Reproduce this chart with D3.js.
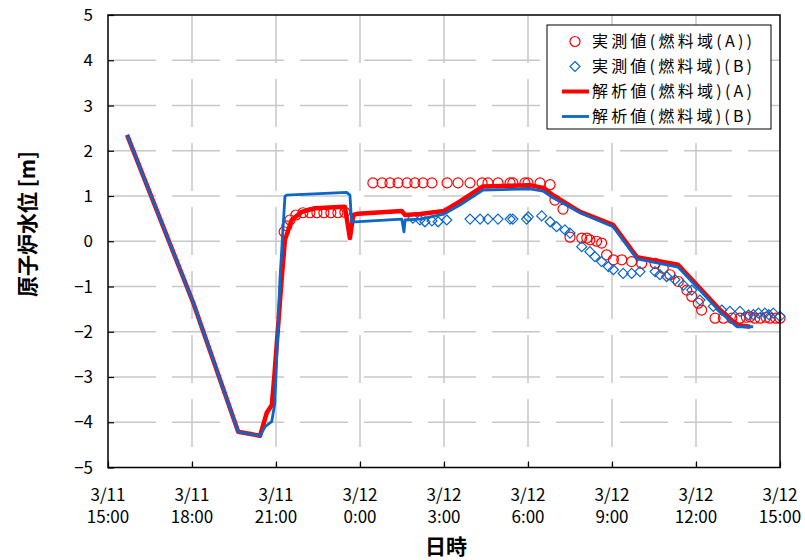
<!DOCTYPE html>
<html>
<head>
<meta charset="utf-8">
<script src="https://cdn.jsdelivr.net/npm/d3@7"></script>
<style>
body{margin:0;background:#fff;}
svg{display:block;font-family:"Noto Sans CJK JP","Noto Sans",sans-serif;}
</style>
</head>
<body>
<svg id="chart" width="805" height="560"></svg>
<script>
// time = hours since 3/11 15:00, value = water level [m]
const measTimeA = [6.29,6.39,6.5,6.71,6.96,7.21,7.46,7.71,7.96,8.21,8.46,
    9.46,9.79,10.07,10.36,10.68,10.96,11.25,11.57,12.11,12.5,12.93,13.36,13.57,13.93,14.36,14.46,14.89,15.0,15.43,15.79,
    15.96,16.25,16.5,16.92,17.1,17.21,17.45,17.63,17.81,18.05,18.35,18.7,19.06,19.54,19.83,20.07,20.37,20.67,20.85,21.08,21.2,
    21.68,21.98,22.28,22.57,22.8,22.93,23.1,23.29,23.5,23.64,23.85,24.0];
const measValA = [0.21,0.34,0.47,0.58,0.63,0.63,0.63,0.63,0.63,0.63,0.64,
    1.29,1.29,1.29,1.29,1.29,1.29,1.29,1.29,1.29,1.29,1.29,1.29,1.29,1.29,1.29,1.29,1.29,1.29,1.29,1.25,
    0.91,0.71,0.09,0.07,0.07,0.03,0.0,-0.04,-0.3,-0.41,-0.41,-0.45,-0.49,-0.49,-0.6,-0.74,-0.89,-1.08,-1.22,-1.37,-1.52,
    -1.7,-1.7,-1.7,-1.7,-1.68,-1.67,-1.7,-1.7,-1.68,-1.7,-1.7,-1.7];

const measTimeB = [10.89,11.14,11.32,11.57,11.79,12.1,12.93,13.29,13.57,13.93,14.36,14.46,14.95,15.01,15.49,15.79,16.02,16.32,16.5,
    16.92,17.21,17.39,17.63,17.87,18.05,18.4,18.7,19.0,19.54,19.71,19.95,20.25,20.55,20.85,21.14,21.62,21.92,22.21,22.57,22.87,
    23.05,23.23,23.46,23.6,23.76,24.0];
const measValB = [0.51,0.47,0.43,0.45,0.43,0.47,0.49,0.49,0.49,0.49,0.49,0.49,0.49,0.54,0.56,0.43,0.32,0.25,0.18,
    -0.12,-0.23,-0.34,-0.45,-0.56,-0.63,-0.71,-0.71,-0.67,-0.67,-0.74,-0.78,-0.85,-0.97,-1.08,-1.3,-1.44,-1.52,-1.55,-1.55,-1.63,
    -1.62,-1.59,-1.59,-1.62,-1.59,-1.66];

const calcTimeA = [0.68,3.05,4.65,5.43,5.67,5.85,5.94,6.2,6.32,6.56,6.92,7.39,8.46,8.64,8.76,8.93,10.49,10.61,11.14,12.0,12.57,13.39,
    15.07,15.54,15.89,16.86,18.04,18.89,20.36,21.86,22.46,22.93];
const calcValA = [2.35,-1.37,-4.21,-4.3,-3.79,-3.62,-2.99,-0.85,0.03,0.47,0.65,0.73,0.76,0.07,0.58,0.61,0.67,0.58,0.6,0.67,0.88,1.21,
    1.24,1.18,1.02,0.65,0.36,-0.35,-0.52,-1.52,-1.85,-1.89];

const calcTimeB = [0.68,3.05,4.65,5.43,5.61,5.85,5.96,6.14,6.32,6.38,8.52,8.64,8.7,8.82,10.49,10.57,10.61,11.14,12.0,12.57,13.39,
    15.07,15.54,15.89,16.86,18.04,18.89,20.36,21.86,22.46,23.04];
const calcValB = [2.35,-1.37,-4.21,-4.3,-4.1,-3.98,-3.57,-0.85,0.99,1.02,1.08,1.02,0.43,0.43,0.49,0.21,0.47,0.49,0.6,0.8,1.13,
    1.16,1.11,0.96,0.63,0.32,-0.39,-0.57,-1.56,-1.89,-1.89];

const xTicks = [0,3,6,9,12,15,18,21,24];
const xTickDates = ["3/11","3/11","3/11","3/12","3/12","3/12","3/12","3/12","3/12"];
const xTickTimes = ["15:00","18:00","21:00","0:00","3:00","6:00","9:00","12:00","15:00"];
const yTicks = [-5,-4,-3,-2,-1,0,1,2,3,4,5];
const legendLabels = ["実測値(燃料域(A))","実測値(燃料域)(B)","解析値(燃料域)(A)","解析値(燃料域)(B)"];

const red = "#ff0000", blue = "#0a66c8";

const svg = d3.select("#chart");
const m = {left:108, right:780, top:15, bottom:467.5};

const x = d3.scaleLinear().domain([0,24]).range([m.left, m.right]);
const y = d3.scaleLinear().domain([-5,5]).range([m.bottom, m.top]);

// grid
const grid = svg.append("g");
grid.selectAll("line.v").data(xTicks.slice(1,-1)).join("line")
    .attr("x1", d => x(d)).attr("x2", d => x(d))
    .attr("y1", m.top).attr("y2", m.bottom)
    .attr("stroke", "#c8c8c8").attr("stroke-width", 1.5)
    .attr("stroke-dasharray", "48,16");
grid.selectAll("line.h").data(yTicks.slice(1,-1)).join("line")
    .attr("x1", m.left).attr("x2", m.right)
    .attr("y1", d => y(d)).attr("y2", d => y(d))
    .attr("stroke", "#c8c8c8").attr("stroke-width", 1.5)
    .attr("stroke-dasharray", "48,16");

// axes (ticks inside)
const xAxis = svg.append("g").attr("transform", `translate(0,${m.bottom})`)
    .call(d3.axisTop(x).tickValues(xTicks).tickSize(6).tickFormat(""));
const yAxis = svg.append("g").attr("transform", `translate(${m.left},0)`)
    .call(d3.axisRight(y).tickValues(yTicks).tickSize(6).tickFormat(""));
[xAxis, yAxis].forEach(a => {
    a.select(".domain").remove();
    a.selectAll("line").attr("stroke", "#000").attr("stroke-width", 1.2);
});

// x tick labels
const xl = svg.append("g").attr("font-size", 17).attr("text-anchor", "middle").attr("fill", "#000");
xTicks.forEach((t, i) => {
    const tx = xl.append("text").attr("x", x(t)).attr("y", 501);
    tx.append("tspan").attr("x", x(t)).text(xTickDates[i]);
    tx.append("tspan").attr("x", x(t)).attr("dy", 22).text(xTickTimes[i]);
});
// y tick labels
svg.append("g").attr("font-size", 17).attr("text-anchor", "end")
    .selectAll("text").data(yTicks).join("text")
    .attr("x", 93).attr("y", d => y(d)).attr("dy", "0.36em")
    .text(d => d < 0 ? "\u2212" + Math.abs(d) : d);

// axis titles
svg.append("text").attr("transform", "translate(35,224) rotate(-90)")
    .attr("text-anchor", "middle").attr("font-size", 21).attr("font-weight", "bold")
    .text("原子炉水位 [m]");
svg.append("text").attr("x", 446).attr("y", 554)
    .attr("text-anchor", "middle").attr("font-size", 21).attr("font-weight", "bold")
    .text("日時");

// clip
svg.append("clipPath").attr("id", "plot").append("rect")
    .attr("x", m.left).attr("y", m.top).attr("width", m.right - m.left + 6).attr("height", m.bottom - m.top);

const plot = svg.append("g").attr("clip-path", "url(#plot)");

const diamond = s => `M0,${-s}L${s},0L0,${s}L${-s},0Z`;

// measured A
plot.append("g").selectAll("circle").data(measTimeA).join("circle")
    .attr("cx", d => x(d)).attr("cy", (d, i) => y(measValA[i])).attr("r", 5)
    .attr("fill", "none").attr("stroke", red).attr("stroke-width", 1.2);
// measured B
plot.append("g").selectAll("path").data(measTimeB).join("path")
    .attr("transform", (d, i) => `translate(${x(d)},${y(measValB[i])})`)
    .attr("d", diamond(5))
    .attr("fill", "none").attr("stroke", blue).attr("stroke-width", 1.2);

const line = d3.line().x(d => x(d[0])).y(d => y(d[1]));
plot.append("path").datum(d3.zip(calcTimeA, calcValA)).attr("d", line)
    .attr("fill", "none").attr("stroke", red).attr("stroke-width", 4.5).attr("stroke-linejoin", "round");
plot.append("path").datum(d3.zip(calcTimeB, calcValB)).attr("d", line)
    .attr("fill", "none").attr("stroke", blue).attr("stroke-width", 2.8).attr("stroke-linejoin", "round");

// frame
svg.append("rect").attr("x", m.left).attr("y", m.top)
    .attr("width", m.right - m.left).attr("height", m.bottom - m.top)
    .attr("fill", "none").attr("stroke", "#000").attr("stroke-width", 1.5);

// legend
const lg = svg.append("g");
lg.append("rect").attr("x", 547).attr("y", 25).attr("width", 224).attr("height", 104)
    .attr("fill", "#fff").attr("stroke", "#000").attr("stroke-width", 1);
legendLabels.forEach((lab, i) => {
    const ly = 41.5 + i * 25;
    if (i === 0) {
        lg.append("circle").attr("cx", 575).attr("cy", ly).attr("r", 5)
            .attr("fill", "none").attr("stroke", red).attr("stroke-width", 1.2);
    } else if (i === 1) {
        lg.append("path").attr("transform", `translate(575,${ly})`).attr("d", diamond(5))
            .attr("fill", "none").attr("stroke", blue).attr("stroke-width", 1.2);
    } else {
        lg.append("line").attr("x1", 562).attr("x2", 589).attr("y1", ly).attr("y2", ly)
            .attr("stroke", i === 2 ? red : blue).attr("stroke-width", i === 2 ? 4 : 2.8);
    }
    lg.append("text").attr("x", 592).attr("y", ly).attr("dy", "0.36em")
        .attr("font-size", 16).attr("textLength", 160).attr("lengthAdjust", "spacing")
        .text(lab);
});
</script>
</body>
</html>
